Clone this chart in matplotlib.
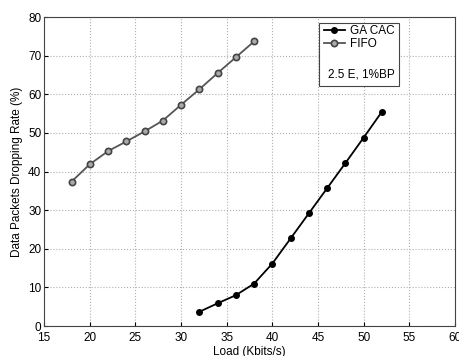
import matplotlib
matplotlib.use('Agg')
import matplotlib.pyplot as plt
from matplotlib.patches import Rectangle

plt.rcParams['font.family'] = ['Liberation Sans', 'DejaVu Sans']

load_fifo = [18, 20, 22, 24, 26, 28, 30, 32, 34, 36, 38]
drop_fifo = [37.4, 41.9, 45.3, 47.8, 50.4, 53.2, 57.3, 61.3, 65.5, 69.6, 73.7]
load_ga = [32, 34, 36, 38, 40, 42, 44, 46, 48, 50, 52]
drop_ga = [3.7, 5.9, 8.0, 11.0, 16.2, 22.7, 29.2, 35.7, 42.2, 48.8, 55.5]

fig = plt.figure(figsize=(4.6, 3.56), dpi=100)
ax = fig.add_axes([0.096, 0.084, 0.893, 0.868])

ax.plot(load_ga, drop_ga, color='black', lw=1.3, marker='o', ms=4,
        mfc='black', mec='black', label='GA CAC')
ax.plot(load_fifo, drop_fifo, color='#555555', lw=1.3, marker='o', ms=4.5,
        mfc='#aaaaaa', mec='#444444', mew=1.2, label='FIFO')

ax.set_xlim(15, 60)
ax.set_ylim(0, 80)
ax.set_xticks(range(15, 61, 5))
ax.set_yticks(range(0, 81, 10))
ax.grid(True, linestyle=':', color='#b0b0b0', lw=0.8)
ax.tick_params(labelsize=8.5, direction='in', length=3)
ax.tick_params(axis='x', pad=4)
ax.tick_params(axis='y', pad=2)
for s in ax.spines.values():
    s.set_color('#444444')
    s.set_linewidth(0.8)

ax.set_xlabel('Load (Kbits/s)', fontsize=8.5, labelpad=2)
ax.set_ylabel('Data Packets Dropping Rate (%)', fontsize=8.5)

# legend box with extra note
ax.add_patch(Rectangle((0.669, 0.777), 0.195, 0.204, transform=ax.transAxes,
                       fc='white', ec='#444444', lw=0.8, zorder=4))
leg = ax.legend(loc='upper left', bbox_to_anchor=(0.672, 0.985), frameon=False,
                fontsize=8.5, handlelength=1.8, handletextpad=0.4,
                labelspacing=0.1, borderpad=0.3, borderaxespad=0)
leg.set_zorder(5)
ax.text(0.69, 0.815, '2.5 E, 1%BP', transform=ax.transAxes, fontsize=8.5,
        va='center', zorder=6)

fig.savefig('out.png', dpi=100)
